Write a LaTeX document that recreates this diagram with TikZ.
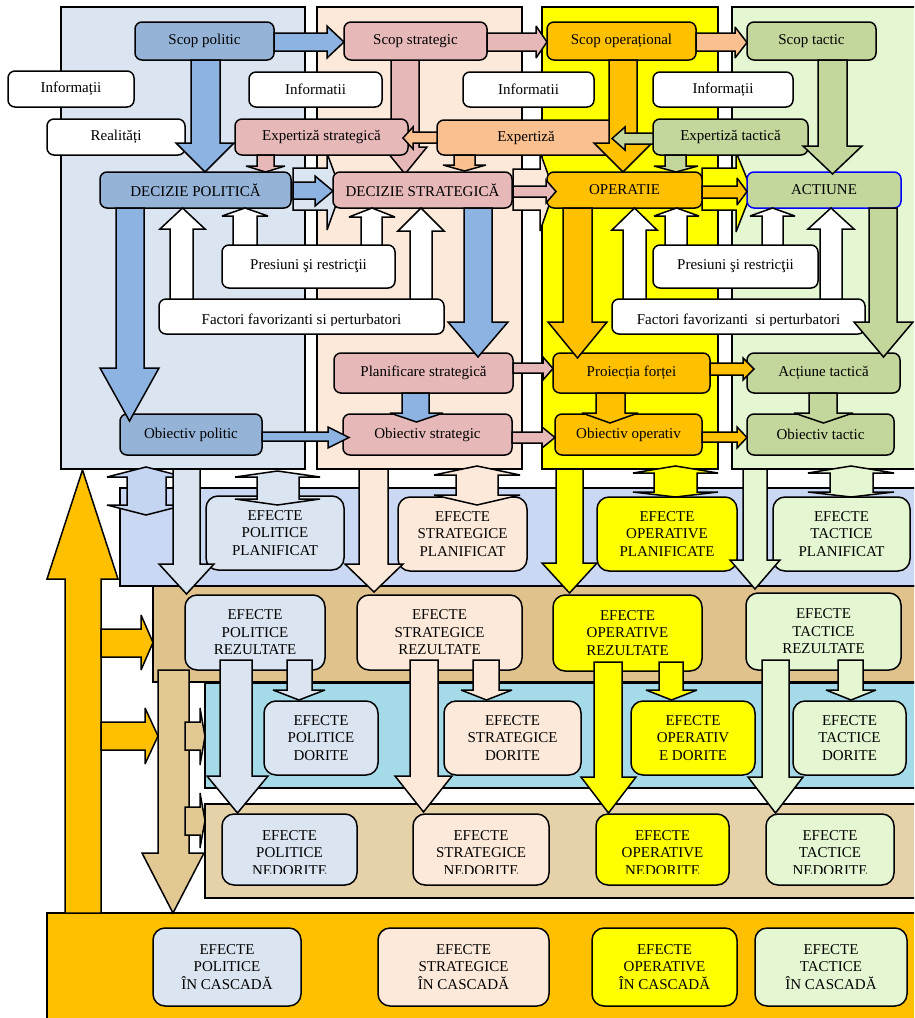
\documentclass[tikz,border=0pt]{standalone}
\usepackage{fontspec}
\setmainfont{Liberation Serif}
\definecolor{polbg}{HTML}{DBE5F1}
\definecolor{strbg}{HTML}{FDE9D9}
\definecolor{opbg}{HTML}{FFFF00}
\definecolor{tacbg}{HTML}{E4F7D2}
\definecolor{polbox}{HTML}{95B3D7}
\definecolor{polarr}{HTML}{8DB3E2}
\definecolor{strbox}{HTML}{E6B9B8}
\definecolor{opbox}{HTML}{FFC000}
\definecolor{expo}{HTML}{FAC090}
\definecolor{tacbox}{HTML}{C3D69B}
\definecolor{bandA}{HTML}{CAD8F3}
\definecolor{bandAarr}{HTML}{C4D5F2}
\definecolor{bandB}{HTML}{DFC28C}
\definecolor{bandC}{HTML}{A5DAE8}
\definecolor{bandD}{HTML}{E6D2A9}
\definecolor{tanarr}{HTML}{E2C892}
\tikzset{
  bxst/.style={draw=black, line width=1.5pt, rounded corners=7pt, inner sep=0pt, align=center, font=\fontsize{15}{17.5}\selectfont},
  efst/.style={rounded corners=12pt},
  txtst/.style={inner sep=0pt, align=center, font=\fontsize{15}{17.5}\selectfont},
  arrst/.style={draw=black, line width=1.5pt, line join=miter, miter limit=3},
  bgst/.style={draw=black, line width=1.4pt},
}
% box: [opts]{name}{x1}{y1}{x2}{y2}{fill}{text}
\newcommand\bx[8][]{\node[bxst,fill=#7,minimum width={(#5-#3)*1pt},minimum height={(#6-#4)*1pt},#1] (#2) at ({(#3+#5)/2},{(#4+#6)/2}) {#8};}
% vertical block arrow: fill, shaft l, shaft r, head l, head r, y start, y head base, y tip
\newcommand\varr[8]{\path[arrst,fill=#1] (#2,#6) -- (#2,#7) -- (#4,#7) -- ({(#4+#5)/2},#8) -- (#5,#7) -- (#3,#7) -- (#3,#6) -- cycle;}
% horizontal block arrow: fill, shaft top, shaft bottom, head top, head bottom, x start, x head base, x tip
\newcommand\harr[8]{\path[arrst,fill=#1] (#6,#2) -- (#7,#2) -- (#7,#4) -- (#8,{(#4+#5)/2}) -- (#7,#5) -- (#7,#3) -- (#6,#3) -- cycle;}
% double vertical arrow: fill, shaft l, shaft r, head l, head r, top tip, top base, bottom base, bottom tip
\newcommand\darr[9]{\path[arrst,fill=#1] (#2,#7) -- (#4,#7) -- ({(#4+#5)/2},#6) -- (#5,#7) -- (#3,#7) -- (#3,#8) -- (#5,#8) -- ({(#4+#5)/2},#9) -- (#4,#8) -- (#2,#8) -- cycle;}
\begin{document}
\begin{tikzpicture}[x=1pt,y=-1pt]
\useasboundingbox (0,0) rectangle (914,1018);
\clip (0,0) rectangle (914,1018);
% column backgrounds
\path[bgst,fill=polbg] (61,7) rectangle (305,469);
\path[bgst,fill=strbg] (317,7) rectangle (522,469);
\path[bgst,fill=opbg] (542,7) rectangle (718,469);
\path[bgst,fill=tacbg] (732,7) rectangle (925,469);
% bands
\path[bgst,fill=bandA] (120,488) rectangle (925,586);
\path[bgst,fill=bandB] (153,586) rectangle (925,682);
\path[bgst,fill=bandC] (205,683) rectangle (925,788);
\path[bgst,fill=bandD] (205,804) rectangle (925,898);
\path[bgst,fill=opbox] (47,913) rectangle (925,1030);
% arrows lying under boxes
\varr{strbox}{391}{419}{383}{427}{60}{147}{174}
\path[arrst,fill=polbg] (293,168) -- (327,168) -- (327,153) -- (341,191) -- (327,230) -- (327,210) -- (293,210) -- cycle;
\path[arrst,fill=strbg] (513,169) -- (540,169) -- (540,152) -- (554,191) -- (540,231) -- (540,210) -- (513,210) -- cycle;
\path[arrst,fill=opbg] (702,168) -- (736,168) -- (736,152) -- (752,191) -- (736,232) -- (736,210) -- (702,210) -- cycle;
% top boxes
\bx{scpol}{135}{22}{274}{60}{polbox}{Scop politic}
\bx{scstr}{344}{22}{487}{60}{strbox}{Scop strategic}
\bx{scop}{547}{22}{696}{60}{opbox}{Scop operațional}
\bx{sctac}{747}{22}{876}{60}{tacbox}{Scop tactic}
\bx{inf1}{8}{71}{134}{107}{white}{Informații}
\bx{inf2}{249}{72}{382}{107}{white}{Informatii}
\bx{inf3}{463}{72}{594}{107}{white}{Informatii}
\bx{inf4}{653}{72}{793}{107}{white}{Informații}
\bx{real}{47}{119}{185}{155}{white}{Realități}
\bx{expstr}{235}{119}{408}{155}{strbox}{Expertiză strategică}
\bx{exp}{437}{120}{615}{155}{expo}{Expertiză}
\bx{exptac}{653}{119}{808}{155}{tacbox}{Expertiză tactică}
\bx{decpol}{100}{172}{291}{208}{polbox}{DECIZIE POLITICĂ}
\bx{decstr}{333}{172}{512}{208}{strbox}{DECIZIE STRATEGICĂ}
\bx{oper}{547}{172}{702}{208}{opbox}{OPERATIE}
\bx[draw=blue]{act}{747}{172}{901}{208}{tacbox}{ACTIUNE}
\bx{pres1}{222}{245}{395}{288}{white}{Presiuni şi restricţii}
\bx{pres2}{653}{245}{818}{288}{white}{Presiuni şi restricţii}
\bx{fac1}{159}{299}{444}{334}{white}{}
\bx{fac2}{612}{299}{865}{334}{white}{}
\begin{scope}
\clip (159,299) rectangle (444,325);
\node[txtst,anchor=base] (fac1t) at (301.5,324) {Factori favorizanti si perturbatori};
\end{scope}
\begin{scope}
\clip (612,299) rectangle (865,325);
\node[txtst,anchor=base] (fac2t) at (738.5,324) {Factori favorizanti\ \ si perturbatori};
\end{scope}
\bx{plan}{334}{353}{513}{393}{strbox}{Planificare strategică}
\bx{proj}{553}{353}{710}{393}{opbox}{Proiecția forței}
\bx{acttac}{747}{353}{900}{393}{tacbox}{Acțiune tactică}
\bx{obpol}{120}{414}{262}{455}{polbox}{Obiectiv politic}
\bx{obstr}{343}{414}{512}{455}{strbox}{Obiectiv strategic}
\bx{obop}{555}{414}{702}{455}{opbox}{Obiectiv operativ}
\bx{obtac}{747}{414}{894}{455}{tacbox}{Obiectiv tactic}
% top arrows
\harr{polarr}{33}{51}{26}{58}{274}{327}{344}
\harr{strbox}{33}{51}{26}{58}{487}{536}{547}
\harr{expo}{33}{51}{27}{58}{696}{735}{747}
\varr{polarr}{191}{220}{176}{234}{60}{143}{172}
\varr{opbox}{609}{637}{594}{652}{60}{143}{172}
\varr{tacbox}{818}{847}{803}{862}{60}{146}{174}
\harr{expo}{132}{143}{127}{149}{437}{413}{403}
\harr{tacbox}{133}{144}{127}{150}{653}{625}{612}
\varr{strbox}{257}{274}{246}{285}{155}{166}{172}
\varr{expo}{454}{475}{443}{486}{155}{165}{171}
\varr{tacbox}{665}{686}{654}{698}{155}{166}{172}
\harr{polarr}{182}{199}{176}{206}{293}{315}{333}
\harr{strbox}{186}{197}{180}{203}{513}{546}{556}
\harr{opbox}{186}{198}{178}{205}{702}{737}{747}
% white up arrows
\varr{white}{170}{193}{160}{205}{299}{229}{208}
\varr{white}{233}{257}{222}{268}{245}{216}{208}
\varr{white}{361}{382}{349}{395}{245}{217}{208}
\varr{white}{410}{432}{398}{444}{299}{231}{208}
\varr{white}{623}{646}{612}{657}{299}{230}{208}
\varr{white}{665}{687}{654}{699}{245}{216}{208}
\varr{white}{762}{783}{750}{795}{245}{216}{208}
\varr{white}{820}{842}{808}{854}{299}{229}{208}
% down arrows from decisions
\varr{polarr}{116}{144}{100}{159}{208}{368}{421}
\varr{polarr}{464}{492}{448}{508}{208}{322}{357}
\varr{opbox}{563}{592}{548}{607}{208}{322}{358}
\varr{tacbox}{869}{897}{854}{913}{208}{322}{357}
% rows 5-6
\harr{strbox}{363}{373}{357}{380}{513}{543}{553}
\harr{opbox}{363}{375}{358}{380}{710}{743}{754}
\varr{polarr}{402}{429}{390}{443}{393}{413}{422}
\varr{opbox}{596}{625}{582}{638}{393}{413}{423}
\varr{tacbox}{809}{837}{794}{853}{393}{413}{423}
\harr{polarr}{432}{441}{427}{448}{262}{328}{349}
\harr{strbox}{432}{443}{427}{448}{512}{542}{555}
\harr{opbox}{432}{442}{427}{448}{702}{737}{747}
% effect boxes
\bx[efst]{p1}{206}{496}{344}{570}{polbg}{EFECTE\\POLITICE\\PLANIFICAT}
\bx[efst]{p2}{398}{497}{527}{571}{strbg}{EFECTE\\STRATEGICE\\PLANIFICAT}
\bx[efst]{p3}{597}{497}{737}{571}{opbg}{EFECTE\\OPERATIVE\\PLANIFICATE}
\bx[efst]{p4}{773}{497}{910}{571}{tacbg}{EFECTE\\TACTICE\\PLANIFICAT}
\bx[efst]{q1}{185}{595}{325}{670}{polbg}{EFECTE\\POLITICE\\REZULTATE}
\bx[efst]{q2}{357}{595}{522}{670}{strbg}{EFECTE\\STRATEGICE\\REZULTATE}
\bx[efst]{q3}{553}{595}{702}{671}{opbg}{EFECTE\\OPERATIVE\\REZULTATE}
\bx[efst]{q4}{746}{593}{901}{670}{tacbg}{EFECTE\\TACTICE\\REZULTATE}
\bx[efst]{e1}{264}{701}{378}{775}{polbg}{EFECTE\\POLITICE\\DORITE}
\bx[efst]{e2}{444}{701}{581}{775}{strbg}{EFECTE\\STRATEGICE\\DORITE}
\bx[efst]{e3}{631}{701}{755}{775}{opbg}{EFECTE\\OPERATIV\\E DORITE}
\bx[efst]{e4}{793}{701}{906}{775}{tacbg}{EFECTE\\TACTICE\\DORITE}
\bx[efst]{n1}{222}{814}{357}{885}{polbg}{}
\bx[efst]{n2}{413}{814}{549}{885}{strbg}{}
\bx[efst]{n3}{596}{814}{729}{885}{opbg}{}
\bx[efst]{n4}{766}{814}{894}{885}{tacbg}{}
\begin{scope}
\clip (200,814) rectangle (914,873);
\node[txtst] (n1t) at (289.5,853) {EFECTE\\POLITICE\\NEDORITE};
\node[txtst] (n2t) at (481,853) {EFECTE\\STRATEGICE\\NEDORITE};
\node[txtst] (n3t) at (662.5,853) {EFECTE\\OPERATIVE\\NEDORITE};
\node[txtst] (n4t) at (830,853) {EFECTE\\TACTICE\\NEDORITE};
\end{scope}
\bx[efst]{c1}{153}{928}{301}{1006}{polbg}{EFECTE\\POLITICE\\ÎN CASCADĂ}
\bx[efst]{c2}{378}{928}{549}{1006}{strbg}{EFECTE\\STRATEGICE\\ÎN CASCADĂ}
\bx[efst]{c3}{592}{928}{737}{1006}{opbg}{EFECTE\\OPERATIVE\\ÎN CASCADĂ}
\bx[efst]{c4}{755}{928}{907}{1006}{tacbg}{EFECTE\\TACTICE\\ÎN CASCADĂ}
% double arrows
\darr{bandAarr}{127}{166}{107}{185}{467}{477}{505}{515}
\darr{polbg}{257}{299}{235}{320}{471}{477}{499}{505}
\darr{strbg}{456}{498}{434}{520}{466}{475}{495}{505}
\darr{opbg}{654}{697}{633}{718}{466}{473}{492}{497}
\darr{tacbg}{830}{873}{808}{894}{466}{473}{492}{497}
% long arrows from columns
\varr{polbg}{173}{200}{159}{214}{469}{564}{594}
\varr{strbg}{359}{388}{345}{403}{469}{564}{592}
\varr{opbg}{556}{583}{542}{597}{469}{563}{593}
\varr{tacbg}{743}{767}{730}{780}{469}{560}{589}
% result arrows
\varr{polbg}{220}{252}{207}{268}{660}{776}{813}
\varr{polbg}{287}{312}{273}{325}{660}{690}{700}
\varr{strbg}{410}{438}{395}{452}{660}{776}{812}
\varr{strbg}{473}{499}{461}{512}{660}{690}{700}
\varr{opbg}{594}{622}{581}{636}{662}{777}{813}
\varr{opbg}{659}{683}{646}{697}{662}{690}{700}
\varr{tacbg}{762}{789}{748}{803}{660}{777}{813}
\varr{tacbg}{838}{863}{826}{876}{660}{690}{700}
% left side arrows
\varr{opbox}{65}{101}{47}{118}{913}{579}{470}
\harr{opbox}{629}{657}{615}{670}{101}{141}{153}
\harr{opbox}{722}{750}{708}{764}{101}{145}{158}
\varr{tanarr}{158}{189}{142}{204}{670}{853}{913}
\harr{tanarr}{722}{750}{708}{765}{185}{200}{205}
\harr{tanarr}{807}{835}{793}{848}{185}{200}{205}
\end{tikzpicture}
\end{document}
